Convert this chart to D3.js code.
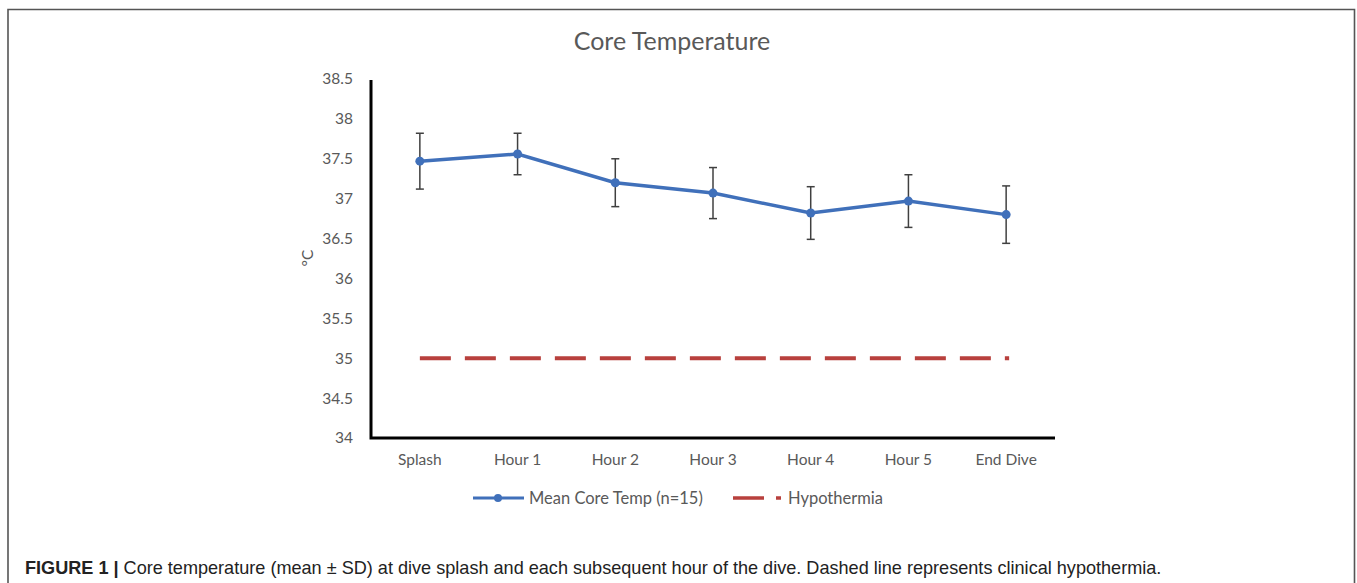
<!DOCTYPE html>
<html>
<head>
<meta charset="utf-8">
<script src="https://cdn.jsdelivr.net/npm/d3@7"></script>
<style>
  body { margin: 0; background: #fff; }
  svg { display: block; }
</style>
</head>
<body>
<div id="chart"></div>
<script>
'use strict';

// data
var categories = ['Splash', 'Hour 1', 'Hour 2', 'Hour 3', 'Hour 4', 'Hour 5', 'End Dive'];
var meanTemp = [37.47, 37.56, 37.20, 37.07, 36.82, 36.97, 36.80];
var sdTemp = [0.35, 0.26, 0.30, 0.32, 0.33, 0.33, 0.36];
var hypothermia = 35;
var yTicks = [34, 34.5, 35, 35.5, 36, 36.5, 37, 37.5, 38, 38.5];

var width = 1357, height = 583;
var chartFont = 'Lato, "Open Sans", sans-serif';
var textGrey = '#595959';
var blue = '#4070BA';
var red = '#B8403D';

var svg = d3.select('#chart').append('svg')
    .attr('width', width)
    .attr('height', height);

// figure frame
svg.append('path')
    .attr('d', 'M8,583 V9.5 H1354.5 V583')
    .attr('fill', 'none')
    .attr('stroke', '#555')
    .attr('stroke-width', 1.6);

var plotLeft = 371, plotRight = 1055, plotTop = 79, plotBottom = 438;

var x = d3.scaleBand()
    .domain(categories)
    .range([plotLeft, plotRight]);

var y = d3.scaleLinear()
    .domain([34, 38.5])
    .range([plotBottom, plotTop]);

// title
svg.append('text')
    .attr('x', 672)
    .attr('y', 50)
    .attr('text-anchor', 'middle')
    .style('font-family', chartFont)
    .style('font-size', '25px')
    .attr('fill', textGrey)
    .text('Core Temperature');

// y axis
var yAxis = svg.append('g')
    .attr('transform', 'translate(' + plotLeft + ',0)')
    .call(d3.axisLeft(y).tickValues(yTicks).tickSize(0).tickPadding(18)
        .tickFormat(function(d) { return String(d); }));
yAxis.select('.domain').remove();
yAxis.selectAll('text')
    .style('font-family', chartFont)
    .style('font-size', '15.5px')
    .attr('fill', textGrey);

// x axis
var xAxis = svg.append('g')
    .attr('transform', 'translate(0,' + plotBottom + ')')
    .call(d3.axisBottom(x).tickSize(0).tickPadding(16));
xAxis.select('.domain').remove();
xAxis.selectAll('text')
    .style('font-family', chartFont)
    .style('font-size', '15.5px')
    .attr('fill', textGrey);

// axis lines
svg.append('path')
    .attr('d', 'M' + plotLeft + ',' + (plotTop + 1) + ' V' + plotBottom + ' H' + plotRight)
    .attr('fill', 'none')
    .attr('stroke', '#000')
    .attr('stroke-width', 3);

// y label
svg.append('text')
    .attr('transform', 'translate(313,258) rotate(-90)')
    .attr('text-anchor', 'middle')
    .style('font-family', chartFont)
    .style('font-size', '15.5px')
    .attr('fill', textGrey)
    .text('°C');

var cx = function(d) { return x(d) + x.bandwidth() / 2; };

// hypothermia line
svg.append('line')
    .attr('x1', cx(categories[0]))
    .attr('x2', cx(categories[categories.length - 1]) + 3)
    .attr('y1', y(hypothermia))
    .attr('y2', y(hypothermia))
    .attr('stroke', red)
    .attr('stroke-width', 4)
    .attr('stroke-dasharray', '31,14');

// error bars
var pts = categories.map(function(c, i) {
    return { cat: c, mean: meanTemp[i], sd: sdTemp[i] };
});

var err = svg.append('g').attr('stroke', '#404040').attr('stroke-width', 1.5);
pts.forEach(function(d) {
    var px = cx(d.cat);
    err.append('line')
        .attr('x1', px).attr('x2', px)
        .attr('y1', y(d.mean + d.sd)).attr('y2', y(d.mean - d.sd));
    [d.mean + d.sd, d.mean - d.sd].forEach(function(v) {
        err.append('line')
            .attr('x1', px - 4).attr('x2', px + 4)
            .attr('y1', y(v)).attr('y2', y(v));
    });
});

// mean line
var line = d3.line()
    .x(function(d) { return cx(d.cat); })
    .y(function(d) { return y(d.mean); });

svg.append('path')
    .datum(pts)
    .attr('d', line)
    .attr('fill', 'none')
    .attr('stroke', blue)
    .attr('stroke-width', 3.5);

svg.append('g')
    .selectAll('circle')
    .data(pts)
    .enter().append('circle')
    .attr('cx', function(d) { return cx(d.cat); })
    .attr('cy', function(d) { return y(d.mean); })
    .attr('r', 4.5)
    .attr('fill', blue);

// legend
var legY = 498;
svg.append('line')
    .attr('x1', 473).attr('x2', 524)
    .attr('y1', legY).attr('y2', legY)
    .attr('stroke', blue).attr('stroke-width', 3);
svg.append('circle')
    .attr('cx', 498).attr('cy', legY).attr('r', 4)
    .attr('fill', blue);
svg.append('text')
    .attr('x', 529).attr('y', legY + 5.5)
    .style('font-family', chartFont)
    .style('font-size', '16.5px')
    .attr('fill', textGrey)
    .text('Mean Core Temp (n=15)');

svg.append('line')
    .attr('x1', 733).attr('x2', 781)
    .attr('y1', legY).attr('y2', legY)
    .attr('stroke', red).attr('stroke-width', 3.5)
    .attr('stroke-dasharray', '31,12');
svg.append('text')
    .attr('x', 788).attr('y', legY + 5.5)
    .style('font-family', chartFont)
    .style('font-size', '16.5px')
    .attr('fill', textGrey)
    .text('Hypothermia');

// caption
var cap = svg.append('text')
    .attr('x', 25).attr('y', 574)
    .style('font-family', '"Liberation Sans", Arial, sans-serif')
    .style('font-size', '18.1px')
    .attr('fill', '#222');
cap.append('tspan').style('font-weight', 'bold').text('FIGURE 1 | ');
cap.append('tspan').text('Core temperature (mean \u00B1 SD) at dive splash and each subsequent hour of the dive. Dashed line represents clinical hypothermia.');
</script>
</body>
</html>
